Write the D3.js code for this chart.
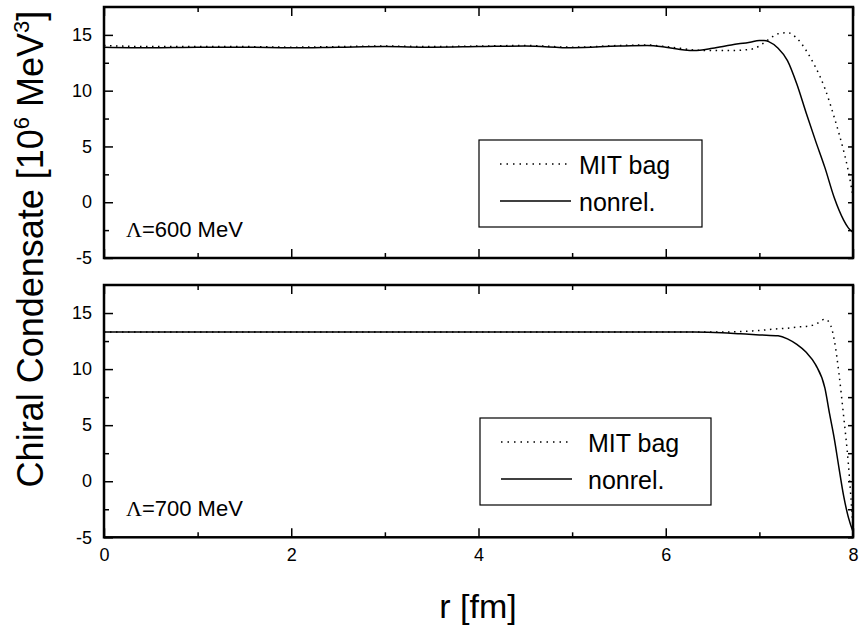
<!DOCTYPE html>
<html>
<head>
<meta charset="utf-8">
<script src="https://cdn.jsdelivr.net/npm/d3@7"></script>
<style>
  body { margin: 0; background: #fff; }
  svg { display: block; font-family: "Liberation Sans", Arial, sans-serif; }
</style>
</head>
<body>
<div id="chart"></div>
<script>
// Lambda = 600 MeV panel
var rTop = [0, 0.5, 1, 1.5, 2, 2.5, 3, 3.5, 4, 4.5, 5, 5.5, 5.8, 6.0, 6.2, 6.3, 6.5, 6.7, 6.9, 7.0, 7.05, 7.1, 7.2, 7.3, 7.4, 7.5, 7.6, 7.7, 7.8, 7.9, 7.95, 8.0];
var nonrelTop = [13.9, 13.85, 13.9, 13.9, 13.85, 13.9, 13.95, 13.9, 13.95, 14.0, 13.85, 14.0, 14.05, 13.9, 13.65, 13.6, 13.8, 14.1, 14.35, 14.5, 14.5, 14.4, 13.8, 12.7, 10.6, 8.0, 5.5, 3.1, 0.4, -1.6, -2.3, -2.7];
var mitTop = [14.05, 13.95, 13.95, 13.95, 13.9, 13.95, 14.0, 13.95, 14.0, 14.05, 13.9, 14.05, 14.1, 13.95, 13.75, 13.65, 13.6, 13.6, 13.7, 14.0, 14.3, 14.6, 15.1, 15.2, 14.7, 13.6, 12.1, 10.2, 7.6, 4.6, 2.8, 0.5];

// Lambda = 700 MeV panel
var rBot = [0, 1, 2, 3, 4, 5, 6, 6.3, 6.6, 6.8, 7.0, 7.2, 7.3, 7.4, 7.5, 7.6, 7.7, 7.75, 7.8, 7.85, 7.9, 7.95, 8.0];
var nonrelBot = [13.3, 13.3, 13.3, 13.3, 13.3, 13.3, 13.3, 13.3, 13.25, 13.15, 13.05, 12.97, 12.7, 12.2, 11.5, 10.4, 8.3, 6.0, 3.8, 1.2, -1.3, -3.2, -4.5];
var mitBot = [13.3, 13.3, 13.3, 13.3, 13.3, 13.3, 13.3, 13.3, 13.3, 13.35, 13.45, 13.6, 13.65, 13.75, 13.8, 14.0, 14.45, 14.1, 12.6, 9.6, 5.8, 1.6, -4.2];

var xTicks = [0, 2, 4, 6, 8];
var xMinor = [1, 3, 5, 7];
var yTicks = [-5, 0, 5, 10, 15];
var yMinor = [-2.5, 2.5, 7.5, 12.5];
var legendNames = ["MIT bag", "nonrel."];

var width = 859, height = 631;
var svg = d3.select("#chart").append("svg")
    .attr("width", width)
    .attr("height", height);

var x = d3.scaleLinear().domain([0, 8]).range([104, 853]);
var plain = function (d) { return String(d); };

function drawPanel(top, bottom, r, mit, nonrel, label, legend, showX) {
    var y = d3.scaleLinear().domain([-5, 17.5]).range([bottom, top]);
    var g = svg.append("g");

    // left axis, inward ticks
    var left = g.append("g").attr("transform", "translate(" + x(0) + ",0)")
        .call(d3.axisLeft(y).tickValues(yTicks).tickSize(-9).tickPadding(12).tickFormat(plain));
    left.append("g").call(d3.axisLeft(y).tickValues(yMinor).tickSize(-5).tickFormat(""));
    // right axis
    g.append("g").attr("transform", "translate(" + x(8) + ",0)")
        .call(d3.axisRight(y).tickValues(yTicks.concat(yMinor)).tickSize(-5).tickFormat(""));
    // bottom axis
    var bot = g.append("g").attr("transform", "translate(0," + bottom + ")")
        .call(d3.axisBottom(x).tickValues(xTicks).tickSize(-9).tickPadding(11)
            .tickFormat(showX ? plain : ""));
    bot.append("g").call(d3.axisBottom(x).tickValues(xMinor).tickSize(-5).tickFormat(""));
    // top axis
    var tp = g.append("g").attr("transform", "translate(0," + top + ")")
        .call(d3.axisTop(x).tickValues(xTicks).tickSize(-9).tickFormat(""));
    tp.append("g").call(d3.axisTop(x).tickValues(xMinor).tickSize(-5).tickFormat(""));

    g.selectAll(".domain").remove();
    g.selectAll(".tick line").attr("stroke", "#000").attr("stroke-width", 1.5);
    g.selectAll(".tick text").attr("font-size", 18).attr("fill", "#000")
        .attr("font-family", "'Liberation Sans', Arial, sans-serif");

    var line = d3.line()
        .x(function (d) { return x(d[0]); })
        .y(function (d) { return y(d[1]); })
        .curve(d3.curveMonotoneX);

    g.append("path")
        .datum(r.map(function (v, i) { return [v, mit[i]]; }))
        .attr("d", line)
        .attr("fill", "none")
        .attr("stroke", "#000")
        .attr("stroke-width", 1.5)
        .attr("stroke-dasharray", "1.5,4.5");

    g.append("path")
        .datum(r.map(function (v, i) { return [v, nonrel[i]]; }))
        .attr("d", line)
        .attr("fill", "none")
        .attr("stroke", "#000")
        .attr("stroke-width", 1.5);

    // frame
    g.append("rect")
        .attr("x", x(0)).attr("y", top)
        .attr("width", x(8) - x(0)).attr("height", bottom - top)
        .attr("fill", "none").attr("stroke", "#000").attr("stroke-width", 2.5);

    // lambda label
    var lt = g.append("text")
        .attr("x", 126).attr("y", bottom - 21)
        .attr("font-size", 22);
    lt.append("tspan").attr("font-family", "'Liberation Serif', 'Times New Roman', serif").text("\u039B");
    lt.append("tspan").text("=" + label + " MeV");

    // legend
    var lg = g.append("g");
    lg.append("rect")
        .attr("x", legend.x).attr("y", legend.y)
        .attr("width", legend.w).attr("height", legend.h)
        .attr("fill", "#fff").attr("stroke", "#000").attr("stroke-width", 1.2);
    legendNames.forEach(function (name, i) {
        var ly = legend.y + 24 + i * 37;
        lg.append("line")
            .attr("x1", legend.x + 21).attr("x2", legend.x + legend.lineEnd)
            .attr("y1", ly).attr("y2", ly)
            .attr("stroke", "#000").attr("stroke-width", 1.5)
            .attr("stroke-dasharray", i === 0 ? "1.5,5" : null);
        lg.append("text")
            .attr("x", legend.x + legend.textX).attr("y", ly + 10)
            .attr("font-size", 25)
            .text(name);
    });
}

drawPanel(7, 258, rTop, mitTop, nonrelTop, "600",
    { x: 479, y: 140, w: 223, h: 87, lineEnd: 92, textX: 100 }, false);
drawPanel(285, 537.3, rBot, mitBot, nonrelBot, "700",
    { x: 480, y: 418, w: 231, h: 87, lineEnd: 92, textX: 108 }, true);

// axis titles
var yt = svg.append("text")
    .attr("transform", "translate(43,249) rotate(-90)")
    .attr("text-anchor", "middle")
    .attr("font-size", 36);
yt.append("tspan").text("Chiral Condensate [10");
yt.append("tspan").attr("font-size", 22).attr("dy", -14).text("6");
yt.append("tspan").attr("dy", 14).text(" MeV");
yt.append("tspan").attr("font-size", 22).attr("dy", -14).text("3");
yt.append("tspan").attr("dy", 14).text("]");

svg.append("text")
    .attr("x", 478).attr("y", 618)
    .attr("text-anchor", "middle")
    .attr("font-size", 34)
    .text("r [fm]");
</script>
</body>
</html>
